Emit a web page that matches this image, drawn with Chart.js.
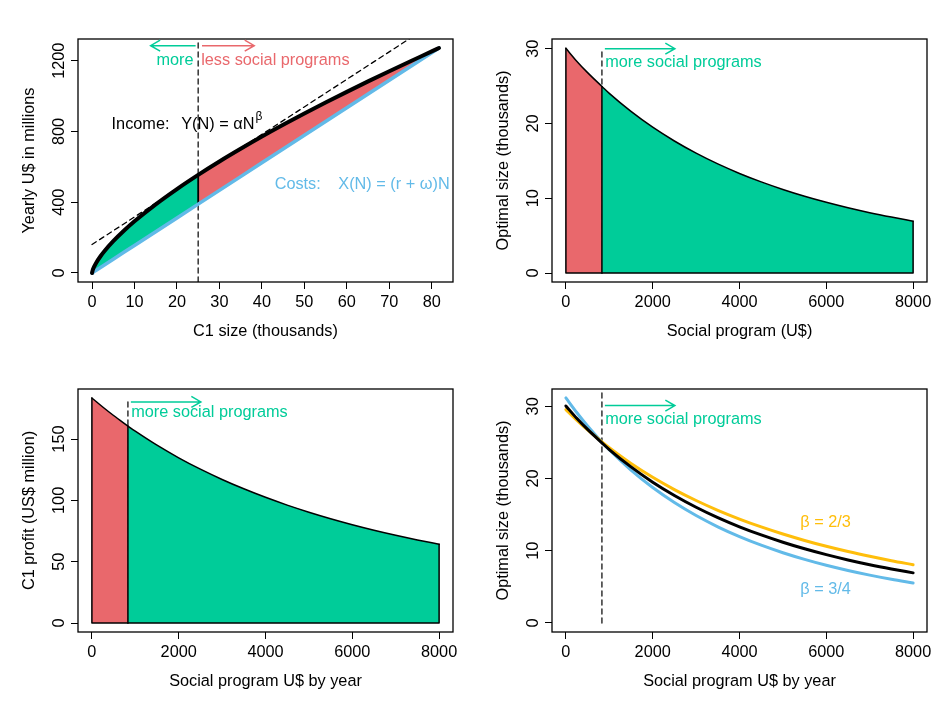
<!DOCTYPE html>
<html>
<head>
<meta charset="utf-8">
<script src="https://cdn.jsdelivr.net/npm/chart.js@4.4.0/dist/chart.umd.min.js"></script>
<style>
html, body { margin: 0; padding: 0; background: #fff; }
#wrap { position: relative; width: 947px; height: 710px; }
canvas { position: absolute; }
</style>
</head>
<body>
<div id="wrap">
<canvas id="p1" width="473" height="350" style="left:0;top:0"></canvas>
<canvas id="p2" width="473" height="350" style="left:474px;top:0"></canvas>
<canvas id="p3" width="473" height="360" style="left:0;top:350px"></canvas>
<canvas id="p4" width="473" height="360" style="left:474px;top:350px"></canvas>
</div>
<script>
// panel 1: income and costs against C1 size (thousands)
var sizeN  = [0, 0.2, 0.5, 1, 2, 3, 5, 7.5, 10, 15, 20, 25, 30, 35, 40, 45, 50, 55, 60, 65, 70, 75, 80, 81.7];
var income = [0, 18.9, 35.9, 58.3, 94.7, 125.8, 179.9, 238.9, 292.2, 388.1, 474.7, 554.9, 630.5, 702.2, 771.2, 837.5, 901.5, 963.7, 1024.2, 1083.4, 1140.9, 1197.4, 1252.7, 1272];
var costs  = [0, 3.1, 7.8, 15.6, 31.1, 46.7, 77.9, 116.8, 155.7, 233.6, 311.4, 389.3, 467.1, 545.0, 622.8, 700.7, 778.5, 856.4, 934.2, 1012.1, 1089.9, 1167.8, 1245.6, 1272];
var tangentN = [0, 76];
var tangentY = [161, 1344];
var optimalN = 25;

// panels 2-4: against social program U$ by year
var program = [0, 250, 500, 830, 1000, 1500, 2000, 2500, 3000, 3500, 4000, 4500, 5000, 5500, 6000, 6500, 7000, 7500, 8000];
var programCut = 830;
var optimalSize = [30.05, 28.34, 26.80, 24.95, 24.02, 21.61, 19.50, 17.66, 16.03, 14.59, 13.32, 12.19, 11.18, 10.27, 9.46, 8.73, 8.07, 7.48, 6.94];
var profit      = [183.5, 176.16, 169.22, 160.63, 156.47, 145.02, 134.74, 125.46, 117.07, 109.44, 102.50, 96.17, 90.39, 85.09, 80.21, 75.71, 71.58, 67.75, 64.21];
var sizeBeta23  = [29.55, 28.10, 26.73, 25.07, 24.27, 22.09, 20.17, 18.47, 16.96, 15.60, 14.39, 13.30, 12.32, 11.43, 10.62, 9.89, 9.23, 8.62, 8.07];
var sizeBeta34  = [31.16, 29.14, 27.27, 25.04, 23.98, 21.16, 18.75, 16.68, 14.88, 13.32, 11.96, 10.77, 9.73, 8.81, 7.99, 7.27, 6.63, 6.05, 5.54];

var ticksN = [0, 10, 20, 30, 40, 50, 60, 70, 80];
var ticksYearly = [0, 400, 800, 1200];
var ticksProgram = [0, 2000, 4000, 6000, 8000];
var ticksSize = [0, 10, 20, 30];
var ticksProfit = [0, 50, 100, 150];

var GREEN = '#00CC99', RED = '#E9686C', BLUE = '#62BAE8', ORANGE = '#FFBE0B';
var FAMILY = "'Liberation Sans', Arial, Helvetica, sans-serif";
var FONT = '16.3px ' + FAMILY;

function P(xs, ys) { return xs.map(function (x, i) { return {x: x, y: ys[i]}; }); }
function line(points, o) {
	return Object.assign({data: points, pointRadius: 0, borderWidth: 1.5, borderColor: '#000', fill: false, tension: 0,
		borderCapStyle: 'round', borderJoinStyle: 'round'}, o || {});
}
var curve = {cubicInterpolationMode: 'monotone'};

function arrow(ctx, x0, y0, x1, y1) {
	var a = Math.atan2(y1 - y0, x1 - x0), L = 11;
	ctx.beginPath();
	ctx.moveTo(x0, y0); ctx.lineTo(x1, y1);
	ctx.moveTo(x1 - L * Math.cos(a - Math.PI / 6), y1 - L * Math.sin(a - Math.PI / 6));
	ctx.lineTo(x1, y1);
	ctx.lineTo(x1 - L * Math.cos(a + Math.PI / 6), y1 - L * Math.sin(a + Math.PI / 6));
	ctx.stroke();
}

// R-like box, rotated y labels, axis titles and the notes
function rAxes(p) {
	return {
		id: 'rAxes',
		afterDraw: function (chart) {
			var ctx = chart.ctx, a = chart.chartArea, x = chart.scales.x, y = chart.scales.y;
			ctx.save();
			ctx.strokeStyle = '#000'; ctx.lineWidth = 1.3;
			ctx.strokeRect(a.left, a.top, a.right - a.left, a.bottom - a.top);
			ctx.fillStyle = '#000';
			ctx.font = FONT;
			ctx.textAlign = 'center'; ctx.textBaseline = 'middle';
			p.yTicks.forEach(function (v) {
				ctx.save();
				ctx.translate(a.left - 18.5, y.getPixelForValue(v));
				ctx.rotate(-Math.PI / 2);
				ctx.fillText(String(v), 0, 0);
				ctx.restore();
			});
			ctx.save();
			ctx.translate(a.left - 48.5, (a.top + a.bottom) / 2);
			ctx.rotate(-Math.PI / 2);
			ctx.fillText(p.yTitle, 0, 0);
			ctx.restore();
			ctx.fillText(p.xTitle, (a.left + a.right) / 2, a.bottom + 50);

			(p.notes || []).forEach(function (n) {
				ctx.strokeStyle = n.color; ctx.fillStyle = n.color;
				if (n.arrow) {
					ctx.lineWidth = 1.5;
					arrow(ctx, x.getPixelForValue(n.arrow[0]), y.getPixelForValue(n.arrow[1]),
						x.getPixelForValue(n.arrow[2]), y.getPixelForValue(n.arrow[1]));
					return;
				}
				var px = x.getPixelForValue(n.x), py = y.getPixelForValue(n.y);
				ctx.font = FONT;
				ctx.textAlign = n.align || 'left';
				ctx.fillText(n.text, px, py);
				if (n.sup) {
					var w = ctx.measureText(n.text).width;
					ctx.font = '12px ' + FAMILY;
					ctx.textAlign = 'left';
					ctx.fillText(n.sup, px + w + 1, py - 7);
				}
			});
			ctx.restore();
		}
	};
}

function options(p) {
	var grid = {drawOnChartArea: false, drawTicks: true, tickLength: 7, color: '#000', lineWidth: 1};
	return {
		responsive: false, animation: false, devicePixelRatio: 1,
		layout: {padding: {top: 39, right: 20, left: 0, bottom: 0}},
		plugins: {legend: {display: false}, tooltip: {enabled: false}},
		scales: {
			x: {
				type: 'linear', min: p.xRange[0], max: p.xRange[1],
				afterBuildTicks: function (s) { s.ticks = p.xTicks.map(function (v) { return {value: v}; }); },
				afterFit: function (s) { s.height = p.xHeight; },
				ticks: {color: '#000', font: {family: FAMILY, size: 16.3}, padding: 3.5, maxRotation: 0, autoSkip: false,
					callback: function (v) { return String(v); }},
				grid: grid, border: {display: false}
			},
			y: {
				type: 'linear', min: p.yRange[0], max: p.yRange[1],
				afterBuildTicks: function (s) { s.ticks = p.yTicks.map(function (v) { return {value: v}; }); },
				afterFit: function (s) { s.width = 78; },
				ticks: {display: false},
				grid: grid, border: {display: false}
			}
		}
	};
}

function panel(id, datasets, p) {
	return new Chart(document.getElementById(id), {
		type: 'line',
		data: {datasets: datasets},
		options: options(p),
		plugins: [rAxes(p)]
	});
}

// ---- panel 1
var k = sizeN.indexOf(optimalN);
var yRange1 = [-51, 1323];
panel('p1', [
	line(P(sizeN, income), Object.assign({borderWidth: 4}, curve)),
	line(P(sizeN, costs), {borderWidth: 3.5, borderColor: BLUE}),
	line(P([optimalN, optimalN], [costs[k], income[k]]), {borderWidth: 1.8}),
	line(P(sizeN.slice(0, k + 1), income.slice(0, k + 1)), Object.assign({borderWidth: 0, fill: '+1', backgroundColor: GREEN}, curve)),
	line(P(sizeN.slice(0, k + 1), costs.slice(0, k + 1)), {borderWidth: 0}),
	line(P(sizeN.slice(k), income.slice(k)), Object.assign({borderWidth: 0, fill: '+1', backgroundColor: RED}, curve)),
	line(P(sizeN.slice(k), costs.slice(k)), {borderWidth: 0}),
	line(P(tangentN, tangentY), {borderWidth: 1.3, borderDash: [5, 4]}),
	line(P([optimalN, optimalN], yRange1), {borderWidth: 1.5, borderColor: '#333', borderDash: [5, 4]})
], {
	xRange: [-3.3, 85.0], yRange: yRange1, xTicks: ticksN, yTicks: ticksYearly, xHeight: 68,
	xTitle: 'C1 size (thousands)', yTitle: 'Yearly U$ in millions',
	notes: [
		{arrow: [24.4, 1285, 13.8], color: GREEN},
		{arrow: [25.9, 1285, 38.2], color: RED},
		{x: 23.9, y: 1202, text: 'more', align: 'right', color: GREEN},
		{x: 25.7, y: 1202, text: 'less social programs', color: RED},
		{x: 4.6, y: 842, text: 'Income:', color: '#000'},
		{x: 21.0, y: 842, text: 'Y(N) = \u03b1N', sup: '\u03b2', color: '#000'},
		{x: 43.0, y: 501, text: 'Costs:', color: BLUE},
		{x: 58.0, y: 501, text: 'X(N) = (r + \u03c9)N', color: BLUE}
	]
});

// ---- panel 2 and 3: optimal size / profit with shaded areas
var c = program.indexOf(programCut);
var last = program.length - 1;
function shaded(id, vals, p, dashTop) {
	return panel(id, [
		line(P([0, 0, program[last], program[last]], [vals[0], 0, 0, vals[last]])),
		line(P([programCut, programCut], [0, vals[c]])),
		line(P(program.slice(0, c + 1), vals.slice(0, c + 1)), Object.assign({fill: 'origin', backgroundColor: RED}, curve)),
		line(P(program.slice(c), vals.slice(c)), Object.assign({fill: 'origin', backgroundColor: GREEN}, curve)),
		line(P([programCut, programCut], [0, dashTop]), {borderWidth: 1.5, borderColor: '#333', borderDash: [5, 4]})
	], p);
}

shaded('p2', optimalSize, {
	xRange: [-320, 8320], yRange: [-1.2, 31.3], xTicks: ticksProgram, yTicks: ticksSize, xHeight: 68,
	xTitle: 'Social program (U$)', yTitle: 'Optimal size (thousands)',
	notes: [
		{arrow: [898, 30.0, 2511], color: GREEN},
		{x: 905, y: 28.1, text: 'more social programs', color: GREEN}
	]
}, 29.8);

shaded('p3', profit, {
	xRange: [-320, 8320], yRange: [-7.34, 190.85], xTicks: ticksProgram, yTicks: ticksProfit, xHeight: 78,
	xTitle: 'Social program U$ by year', yTitle: 'C1 profit (US$ million)',
	notes: [
		{arrow: [898, 180.3, 2511], color: GREEN},
		{x: 905, y: 171.3, text: 'more social programs', color: GREEN}
	]
}, 181);

// ---- panel 4: three betas
panel('p4', [
	line(P(program, optimalSize), Object.assign({borderWidth: 3}, curve)),
	line(P(program, sizeBeta23), Object.assign({borderWidth: 3, borderColor: ORANGE}, curve)),
	line(P(program, sizeBeta34), Object.assign({borderWidth: 3, borderColor: BLUE}, curve)),
	line(P([programCut, programCut], [0, 32]), {borderWidth: 1.5, borderColor: '#333', borderDash: [5, 4]})
], {
	xRange: [-320, 8320], yRange: [-1.25, 32.4], xTicks: ticksProgram, yTicks: ticksSize, xHeight: 78,
	xTitle: 'Social program U$ by year', yTitle: 'Optimal size (thousands)',
	notes: [
		{arrow: [898, 30.1, 2511], color: GREEN},
		{x: 905, y: 28.2, text: 'more social programs', color: GREEN},
		{x: 5400, y: 13.9, text: '\u03b2 = 2/3', color: ORANGE},
		{x: 5400, y: 4.7, text: '\u03b2 = 3/4', color: BLUE}
	]
});
</script>
</body>
</html>
